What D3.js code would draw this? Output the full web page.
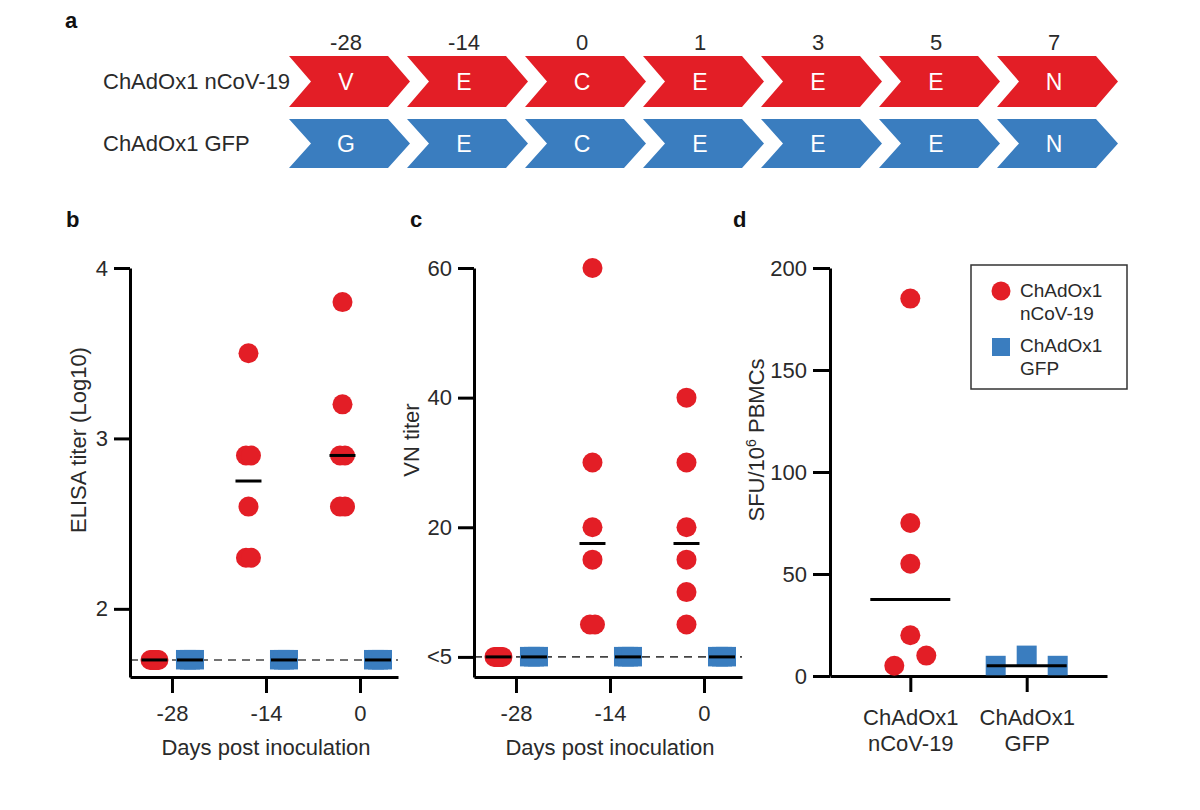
<!DOCTYPE html>
<html>
<head>
<meta charset="utf-8">
<script src="https://cdn.jsdelivr.net/npm/d3@7/dist/d3.min.js"></script>
<style>
  html, body { margin: 0; padding: 0; background: #fff; }
  svg { display: block; }
  text { font-family: "Liberation Sans", Arial, Helvetica, sans-serif; }
</style>
</head>
<body>
<svg id="chart" width="1200" height="810"></svg>
<script>
// ---------------- DATA ----------------
const groups = ["ChAdOx1 nCoV-19", "ChAdOx1 GFP"];
const scheduleDays = ["-28", "-14", "0", "1", "3", "5", "7"];
const scheduleVaccine = ["V", "E", "C", "E", "E", "E", "N"];
const scheduleGFP = ["G", "E", "C", "E", "E", "E", "N"];

const days = [-28, -14, 0];
// ELISA titer (log10), per day
const elisaVaccine = [
  [1.7, 1.7, 1.7, 1.7, 1.7, 1.7],
  [3.5, 2.9, 2.9, 2.6, 2.3, 2.3],
  [3.8, 3.2, 2.9, 2.9, 2.6, 2.6]
];
const elisaGFP = [
  [1.7, 1.7, 1.7],
  [1.7, 1.7, 1.7],
  [1.7, 1.7, 1.7]
];
const elisaLOD = 1.7;
const elisaTicks = [2, 3, 4];

// VN titer (0 = "<5", below detection)
const vnVaccine = [
  [0, 0, 0, 0, 0, 0],
  [60, 30, 20, 15, 5, 5],
  [40, 30, 20, 15, 10, 5]
];
const vnGFP = [
  [0, 0, 0],
  [0, 0, 0],
  [0, 0, 0]
];
const vnLOD = 0;
const vnTicks = [0, 20, 40, 60];
const vnTickLabels = ["<5", "20", "40", "60"];

// SFU / 10^6 PBMCs
const sfuVaccine = [5, 10, 20, 55, 75, 185];
const sfuGFP = [5, 10, 5];
const sfuTicks = [0, 50, 100, 150, 200];

// ---------------- STYLE ----------------
const RED = "#e31e26";
const BLUE = "#3a7dbf";
const TXT = "#2a2a2a";
const FONT = 22;

const svg = d3.select("#chart");

// ---------------- PANEL A ----------------
const aBand = d3.scaleBand().domain(d3.range(scheduleDays.length)).range([289, 289 + 118 * 7]);
const rows = [
  { label: groups[0], letters: scheduleVaccine, color: RED, y0: 56, y1: 107 },
  { label: groups[1], letters: scheduleGFP, color: BLUE, y0: 119, y1: 168 }
];
const AW = 99, TIP = 22, NOTCH = 22;
function chevron(x0, y0, y1) {
  const ym = (y0 + y1) / 2;
  return `M${x0},${y0}L${x0 + AW},${y0}L${x0 + AW + TIP},${ym}L${x0 + AW},${y1}L${x0},${y1}L${x0 + NOTCH},${ym}Z`;
}
svg.append("text").attr("x", 65).attr("y", 28).attr("font-size", FONT).attr("font-weight", "bold").attr("fill", "#111").text("a");
svg.selectAll(".daylab").data(scheduleDays).enter().append("text")
  .attr("x", (d, i) => aBand(i) + 57).attr("y", 50)
  .attr("text-anchor", "middle").attr("font-size", FONT).attr("fill", TXT).text(d => d);
rows.forEach(r => {
  const g = svg.append("g");
  g.append("text").attr("x", 103).attr("y", (r.y0 + r.y1) / 2).attr("dy", "0.35em")
    .attr("font-size", FONT).attr("fill", TXT).text(r.label);
  g.selectAll("path").data(r.letters).enter().append("path")
    .attr("d", (d, i) => chevron(aBand(i), r.y0, r.y1)).attr("fill", r.color);
  g.selectAll(".lt").data(r.letters).enter().append("text")
    .attr("x", (d, i) => aBand(i) + 57).attr("y", (r.y0 + r.y1) / 2).attr("dy", "0.36em")
    .attr("text-anchor", "middle").attr("font-size", FONT + 1).attr("fill", "#fff").text(d => d);
});

// ---------------- helpers ----------------
function jitterOffsets(vals) {
  const offs = new Array(vals.length).fill(0);
  const byVal = d3.group(vals.map((v, i) => ({ v, i })), d => d.v);
  byVal.forEach(arr => {
    const n = arr.length;
    if (n > 1) {
      const s = n === 2 ? 2.5 : 4;
      arr.forEach((d, k) => { offs[d.i] = -s + (2 * s * k) / (n - 1); });
    }
  });
  return offs;
}
function spreadOffsets(vals, y, thresh, step) {
  // cluster points whose vertical pixel distance is below thresh, spread them sideways
  const n = vals.length;
  const parent = d3.range(n);
  const find = i => (parent[i] === i ? i : (parent[i] = find(parent[i])));
  for (let i = 0; i < n; i++) for (let j = i + 1; j < n; j++)
    if (Math.abs(y(vals[i]) - y(vals[j])) < thresh) parent[find(i)] = find(j);
  const clusters = d3.group(d3.range(n), i => find(i));
  const offs = new Array(n).fill(0);
  clusters.forEach(idx => {
    const m = idx.length;
    idx.forEach((i, k) => { offs[i] = (k - (m - 1) / 2) * step; });
  });
  return offs;
}
function styleAxis(g) {
  g.select(".domain").attr("stroke", "#000").attr("stroke-width", 3);
  g.selectAll(".tick line").attr("stroke", "#000").attr("stroke-width", 3);
  g.selectAll(".tick text").attr("font-size", FONT).attr("fill", TXT)
    .attr("font-family", '"Liberation Sans", Arial, sans-serif');
}
function circle(g, x, y, color) {
  g.append("circle").attr("cx", x).attr("cy", y).attr("r", 10).attr("fill", color);
}
function square(g, x, y, color) {
  g.append("rect").attr("x", x - 10).attr("y", y - 10).attr("width", 20).attr("height", 19.5).attr("fill", color);
}

// ---------------- PANELS B & C ----------------
function timePanel(opts) {
  const { left, letter, yDomain, ticks, tickLabels, label, labelX, vac, gfp, lod } = opts;
  const top = 268, bottom = 677;
  const x = d3.scaleLinear().domain([-34.25, 5.66]).range([left, left + 268]);
  const y = d3.scaleLinear().domain(yDomain).range([bottom, top]);
  const g = svg.append("g");
  g.append("text").attr("x", left - 64).attr("y", 227).attr("font-size", FONT).attr("font-weight", "bold").attr("fill", "#111").text(letter);

  // dashed detection line
  g.append("line").attr("x1", left).attr("x2", left + 268).attr("y1", y(lod)).attr("y2", y(lod))
    .attr("stroke", "#444").attr("stroke-width", 1.6).attr("stroke-dasharray", "8,6");

  const gy = g.append("g").attr("transform", `translate(${left},0)`)
    .call(d3.axisLeft(y).tickValues(ticks).tickSize(16).tickPadding(6).tickSizeOuter(0)
      .tickFormat((d, i) => tickLabels ? tickLabels[i] : String(d)));
  styleAxis(gy);
  const gx = g.append("g").attr("transform", `translate(0,${bottom})`)
    .call(d3.axisBottom(x).tickValues(days).tickSize(16).tickPadding(12).tickSizeOuter(0).tickFormat(d => String(d)));
  styleAxis(gx);

  g.append("text").attr("x", (left + left + 268) / 2 + 2).attr("y", 755).attr("text-anchor", "middle")
    .attr("font-size", FONT).attr("fill", TXT).text("Days post inoculation");
  g.append("text").attr("transform", `translate(${labelX},440) rotate(-90)`).attr("dy", "0.35em")
    .attr("text-anchor", "middle").attr("font-size", FONT).attr("fill", TXT).text(label);

  const pts = g.append("g");
  const med = g.append("g");
  days.forEach((d, k) => {
    [[vac[k], RED, -17.5, circle], [gfp[k], BLUE, 18, square]].forEach(([vals, col, off, shape]) => {
      const cx = x(d) + off;
      const jo = jitterOffsets(vals);
      vals.forEach((v, i) => shape(pts, cx + jo[i], y(v), col));
      const m = d3.median(vals);
      med.append("line").attr("x1", cx - 13).attr("x2", cx + 13).attr("y1", y(m)).attr("y2", y(m))
        .attr("stroke", "#000").attr("stroke-width", 3);
    });
  });
}

timePanel({ left: 130, letter: "b", yDomain: [1.6, 4], ticks: elisaTicks, tickLabels: null,
  label: "ELISA titer (Log10)", labelX: 78, vac: elisaVaccine, gfp: elisaGFP, lod: elisaLOD });
timePanel({ left: 474, letter: "c", yDomain: [-3.1, 60], ticks: vnTicks, tickLabels: vnTickLabels,
  label: "VN titer", labelX: 411, vac: vnVaccine, gfp: vnGFP, lod: vnLOD });

// ---------------- PANEL D ----------------
(function () {
  const left = 830, right = 1107, top = 268, bottom = 676;
  const x = d3.scalePoint().domain(groups).range([left, right]).padding(0.69);
  const y = d3.scaleLinear().domain([0, 200]).range([bottom, top]);
  const g = svg.append("g");
  g.append("text").attr("x", 733).attr("y", 227).attr("font-size", FONT).attr("font-weight", "bold").attr("fill", "#111").text("d");

  const gy = g.append("g").attr("transform", `translate(${left},0)`)
    .call(d3.axisLeft(y).tickValues(sfuTicks).tickSize(17).tickPadding(6).tickSizeOuter(0).tickFormat(d => String(d)));
  styleAxis(gy);
  const gx = g.append("g").attr("transform", `translate(0,${bottom})`)
    .call(d3.axisBottom(x).tickSize(16).tickPadding(12).tickSizeOuter(0).tickFormat(""));
  styleAxis(gx);
  gx.selectAll(".tick").each(function (d) {
    const parts = d.split(" ");
    const t = d3.select(this).append("text").attr("text-anchor", "middle").attr("font-size", FONT).attr("fill", TXT);
    t.append("tspan").attr("x", 0).attr("y", 49).text(parts[0]);
    t.append("tspan").attr("x", 0).attr("y", 75).text(parts.slice(1).join(" "));
  });

  const yl = g.append("text").attr("transform", `translate(756,440) rotate(-90)`).attr("dy", "0.35em")
    .attr("text-anchor", "middle").attr("font-size", FONT).attr("fill", TXT);
  yl.append("tspan").text("SFU/10");
  yl.append("tspan").attr("font-size", 14).attr("dy", "-0.55em").text("6");
  yl.append("tspan").attr("dy", "0.35em").text(" PBMCs");

  const pts = g.append("g");
  const med = g.append("g");
  [[sfuVaccine, groups[0], RED, circle], [sfuGFP, groups[1], BLUE, square]].forEach(([vals, grp, col, shape]) => {
    const cx = x(grp);
    const so = spreadOffsets(vals, y, 18, col === RED ? 32 : 31);
    vals.forEach((v, i) => shape(pts, cx + so[i], y(v), col));
    const m = d3.median(vals);
    med.append("line").attr("x1", cx - 40).attr("x2", cx + 40).attr("y1", y(m)).attr("y2", y(m))
      .attr("stroke", "#000").attr("stroke-width", 3);
  });

  // legend
  const lg = g.append("g");
  lg.append("rect").attr("x", 971).attr("y", 265).attr("width", 156).attr("height", 124)
    .attr("fill", "#fff").attr("stroke", "#333").attr("stroke-width", 1.5);
  lg.append("circle").attr("cx", 1001).attr("cy", 291).attr("r", 9.5).attr("fill", RED);
  lg.append("rect").attr("x", 992).attr("y", 338).attr("width", 18).attr("height", 18).attr("fill", BLUE);
  const l1 = lg.append("text").attr("font-size", 19).attr("fill", TXT);
  l1.append("tspan").attr("x", 1020).attr("y", 297).text("ChAdOx1");
  l1.append("tspan").attr("x", 1020).attr("y", 320).text("nCoV-19");
  const l2 = lg.append("text").attr("font-size", 19).attr("fill", TXT);
  l2.append("tspan").attr("x", 1020).attr("y", 352).text("ChAdOx1");
  l2.append("tspan").attr("x", 1020).attr("y", 375).text("GFP");
})();
</script>
</body>
</html>
